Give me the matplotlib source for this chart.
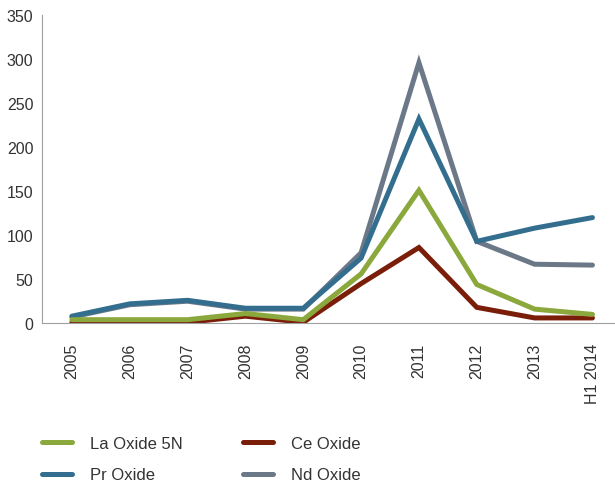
import matplotlib.pyplot as plt

plt.rcParams['font.family'] = ['Liberation Sans', 'DejaVu Sans']

years = ["2005", "2006", "2007", "2008", "2009", "2010", "2011", "2012", "2013", "H1 2014"]
la_oxide = [4, 4, 4, 11, 4, 56, 151, 44, 16, 10]
ce_oxide = [1, 1, 1, 8, 1, 45, 86, 18, 6, 6]
pr_oxide = [8, 22, 26, 17, 17, 74, 232, 93, 108, 120]
nd_oxide = [7, 21, 25, 16, 16, 80, 296, 93, 67, 66]

fig = plt.figure(figsize=(6.15, 4.89), dpi=100)
ax = fig.add_axes([0.068, 0.337, 0.932, 0.63])

x = range(len(years))
lw = 3.6
l_ce, = ax.plot(x, ce_oxide, color="#7a1e0a", lw=lw, solid_capstyle="round", solid_joinstyle="miter", label="Ce Oxide")
l_nd, = ax.plot(x, nd_oxide, color="#6b7888", lw=lw, solid_capstyle="round", solid_joinstyle="miter", label="Nd Oxide")
l_pr, = ax.plot(x, pr_oxide, color="#336e8f", lw=lw, solid_capstyle="round", solid_joinstyle="miter", label="Pr Oxide")
l_la, = ax.plot(x, la_oxide, color="#8aa83b", lw=lw, solid_capstyle="round", solid_joinstyle="miter", label="La Oxide 5N")

ax.set_xlim(-0.52, 9.39)
ax.set_ylim(0, 350)
ax.set_yticks(range(0, 351, 50))
ax.set_xticks(list(x))
ax.set_xticklabels(years, rotation=90)
for s in ["top", "right"]:
    ax.spines[s].set_visible(False)
for s in ["left", "bottom"]:
    ax.spines[s].set_color("#a0a0a0")
ax.tick_params(axis="x", length=0, pad=14, labelsize=11.5, labelcolor="#333333")
ax.tick_params(axis="y", length=0, pad=6, labelsize=11.5, labelcolor="#333333")

fig.legend([l_la, l_pr, l_ce, l_nd], ["La Oxide 5N", "Pr Oxide", "Ce Oxide", "Nd Oxide"],
           ncol=2, loc="upper left", bbox_to_anchor=(0.054, 0.124), frameon=False,
           borderpad=0, handlelength=1.8, handletextpad=1.1, columnspacing=3.6,
           labelspacing=1.0, fontsize=12, labelcolor="#333333")

fig.savefig("out.png", dpi=100)
